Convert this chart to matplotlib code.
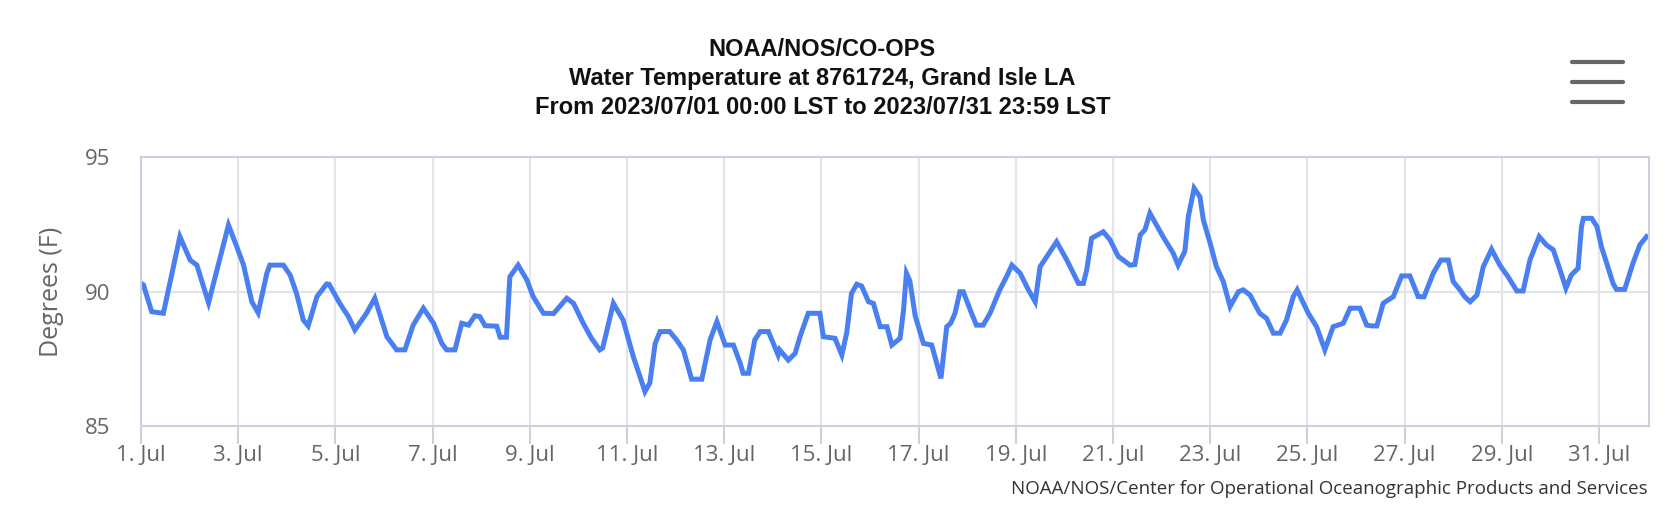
import matplotlib
matplotlib.use("Agg")
import matplotlib.pyplot as plt
from matplotlib.lines import Line2D

# Water temperature, days since 2023/07/01 00:00 LST
days = [
    0.00, 0.05, 0.22, 0.46, 0.80, 1.01, 1.15, 1.39, 1.80, 1.97, 2.11, 2.28, 2.41,
    2.59, 2.65, 2.93, 3.07, 3.20, 3.34, 3.44, 3.62, 3.82, 3.87, 4.09, 4.27, 4.40,
    4.64, 4.81, 5.06, 5.26, 5.43, 5.60, 5.81, 6.02, 6.19, 6.29, 6.46, 6.60, 6.74,
    6.87, 6.97, 7.08, 7.32, 7.39, 7.52, 7.59, 7.76, 7.94, 8.07, 8.28, 8.49, 8.76,
    8.90, 9.10, 9.27, 9.44, 9.50, 9.72, 9.92, 10.13, 10.37, 10.47, 10.58, 10.68,
    10.88, 11.02, 11.16, 11.33, 11.54, 11.71, 11.85, 12.02, 12.19, 12.33, 12.39,
    12.50, 12.63, 12.74, 12.91, 13.01, 13.11, 13.14, 13.32, 13.46, 13.56, 13.73,
    13.97, 14.04, 14.28, 14.42, 14.52, 14.62, 14.73, 14.83, 14.97, 15.07, 15.21,
    15.35, 15.45, 15.62, 15.69, 15.75, 15.82, 15.93, 16.10, 16.27, 16.46, 16.58,
    16.66, 16.75, 16.85, 16.92, 17.09, 17.19, 17.33, 17.47, 17.67, 17.81, 17.92,
    18.09, 18.26, 18.40, 18.50, 18.64, 18.84, 19.05, 19.22, 19.29, 19.39, 19.46,
    19.56, 19.80, 19.94, 20.11, 20.21, 20.35, 20.45, 20.56, 20.66, 20.76, 21.03,
    21.24, 21.34, 21.48, 21.55, 21.67, 21.79, 21.86, 22.00, 22.13, 22.27, 22.41,
    22.58, 22.68, 22.82, 23.02, 23.16, 23.30, 23.44, 23.57, 23.71, 23.79, 23.92,
    24.02, 24.19, 24.36, 24.53, 24.74, 24.88, 25.08, 25.22, 25.33, 25.43, 25.56,
    25.77, 25.94, 26.11, 26.28, 26.40, 26.59, 26.75, 26.90, 27.00, 27.14, 27.24,
    27.35, 27.49, 27.62, 27.79, 27.96, 28.13, 28.31, 28.44, 28.58, 28.77, 28.92,
    29.06, 29.20, 29.32, 29.43, 29.57, 29.64, 29.68, 29.85, 29.96, 30.05, 30.16,
    30.29, 30.36, 30.53, 30.70, 30.84, 30.98,
]
temps = [
    90.30, 90.25, 89.25, 89.19, 92.04, 91.17, 90.98, 89.58, 92.47, 91.67, 90.98, 89.62, 89.21,
    90.68, 90.98, 90.98, 90.61, 89.93, 88.94, 88.72, 89.81, 90.28, 90.27, 89.56, 89.06, 88.57,
    89.19, 89.75, 88.32, 87.83, 87.83, 88.75, 89.38, 88.82, 88.07, 87.83, 87.83, 88.82, 88.75,
    89.10, 89.07, 88.73, 88.71, 88.30, 88.30, 90.55, 90.98, 90.43, 89.81, 89.19, 89.18, 89.75,
    89.56, 88.82, 88.26, 87.83, 87.90, 89.56, 88.94, 87.58, 86.28, 86.60, 88.07, 88.51,
    88.51, 88.20, 87.83, 86.74, 86.74, 88.20, 88.88, 88.01, 88.01, 87.33, 86.96,
    86.96, 88.20, 88.51, 88.51, 88.07, 87.64, 87.83, 87.45, 87.70, 88.32, 89.19,
    89.19, 88.32, 88.26, 87.64, 88.45, 89.93, 90.27, 90.20, 89.62, 89.56, 88.69,
    88.69, 88.01, 88.26, 89.30, 90.68, 90.40, 89.10, 88.07, 88.01, 86.77, 88.69,
    88.82, 89.19, 89.99, 89.99, 89.19, 88.75, 88.75, 89.19, 90.06, 90.55, 90.98,
    90.68, 90.06, 89.62, 90.92, 91.30, 91.85, 91.17, 90.55, 90.30, 90.30, 90.80,
    91.98, 92.22, 91.92, 91.30, 91.17, 90.98, 91.00, 92.10, 92.30, 92.91, 92.04,
    91.42, 90.98, 91.50, 92.78, 93.84, 93.52, 92.66, 91.79, 90.92, 90.37, 89.44,
    89.99, 90.06, 89.87, 89.19, 89.00, 88.45, 88.45, 88.94, 89.81, 90.06, 89.56,
    89.19, 88.69, 87.83, 88.69, 88.82, 89.38, 89.38, 88.75, 88.72, 88.72, 89.56,
    89.81, 90.58, 90.58, 89.81, 89.80, 90.68, 91.17, 91.17, 90.37, 90.06, 89.80,
    89.62, 89.87, 90.92, 91.57, 90.98, 90.55, 90.02, 90.02, 91.17, 92.04, 91.73,
    91.55, 90.80, 90.12, 90.61, 90.86, 92.41, 92.72, 92.72, 92.41, 91.67, 91.05,
    90.30, 90.08, 90.08, 91.05, 91.73, 92.04,
]

xtick_days = list(range(0, 31, 2))
xtick_labels = [f"{d + 1}. Jul" for d in xtick_days]
ytick_vals = [85, 90, 95]

title_lines = [
    "NOAA/NOS/CO-OPS",
    "Water Temperature at 8761724, Grand Isle LA",
    "From 2023/07/01 00:00 LST to 2023/07/31 23:59 LST",
]

W, H = 1668, 520
fig = plt.figure(figsize=(W / 100, H / 100), dpi=100)
fig.patch.set_facecolor("white")

# plot area in pixels: x 141..1649, y 157..426
ax = fig.add_axes([141 / W, 1 - 426 / H, (1649 - 141) / W, (426 - 157) / H])
ax.plot(days, temps, color="#4A7FF2", lw=3.6, solid_joinstyle="miter")

ax.set_xlim(0, 31.03)
ax.set_ylim(85, 95)
ax.set_xticks(xtick_days)
ax.set_xticklabels(xtick_labels)
ax.set_yticks(ytick_vals)
ax.grid(True, color="#e3e4ea", lw=1.5)
ax.set_axisbelow(True)
for s in ax.spines.values():
    s.set_color("#cdd1de")
    s.set_linewidth(1.5)

ax.tick_params(axis="x", length=13, width=1.5, color="#cdd1de", pad=1,
               labelcolor="#666666", labelsize=16)
ax.tick_params(axis="y", length=0, pad=22, labelcolor="#666666", labelsize=16)
for lab in ax.get_xticklabels() + ax.get_yticklabels():
    lab.set_family("Open Sans")

fig.text(51 / W, 1 - 291.5 / H, "Degrees (F)", rotation=90, ha="center", va="center",
         family="Open Sans", size=18, color="#666666")

for i, line in enumerate(title_lines):
    fig.text(0.493, 1 - (50 + 29 * i) / H, line, ha="center", va="center",
             family="Liberation Sans", weight="bold", size=17, color="#111111")

fig.text(1648 / W, 1 - 489 / H,
         "NOAA/NOS/Center for Operational Oceanographic Products and Services",
         ha="right", va="center", family="Open Sans", size=13.5, color="#333333")

# menu button (three bars)
for yp in (62, 82, 102):
    fig.add_artist(Line2D([1572 / W, 1623 / W], [1 - yp / H, 1 - yp / H],
                          color="#666666", lw=3, solid_capstyle="round"))

fig.savefig("out.png", dpi=100)
